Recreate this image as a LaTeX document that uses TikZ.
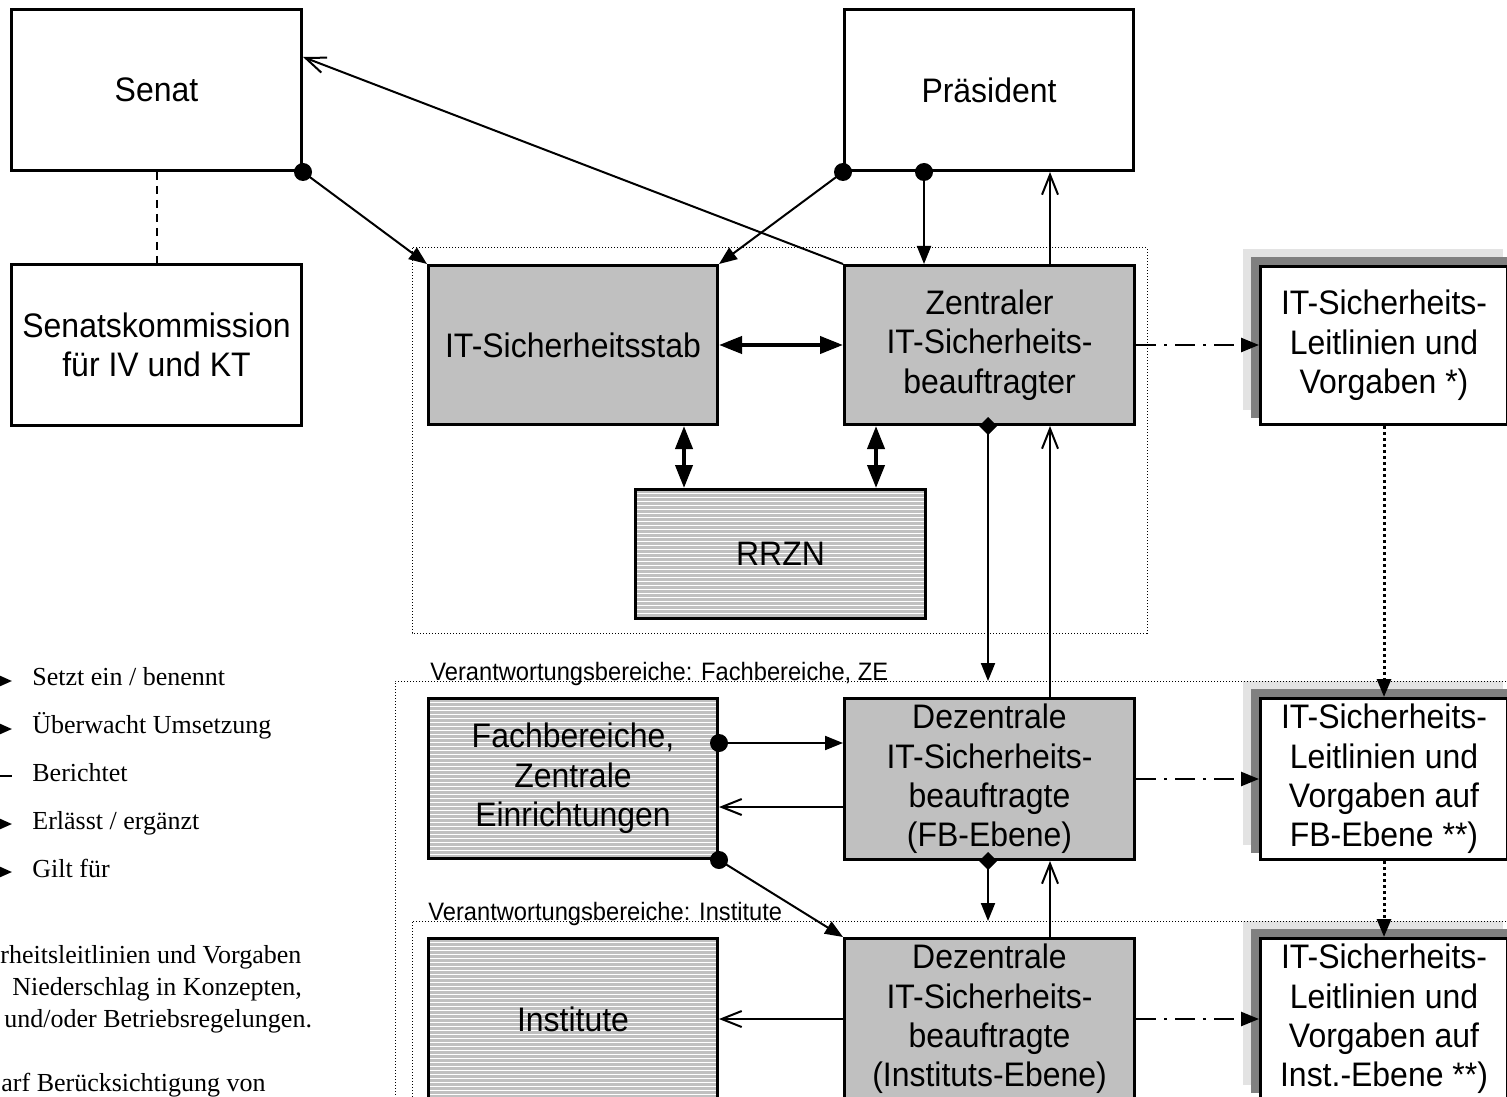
\documentclass[tikz,border=0pt]{standalone}
\usepackage{fontspec}
\setmainfont{Liberation Serif}
\newfontfamily\boxfont[FakeStretch=0.94]{Liberation Sans}
\usetikzlibrary{arrows.meta,calc,backgrounds}

\definecolor{boxgray}{HTML}{C0C0C0}
\definecolor{shadowdark}{HTML}{808080}
\definecolor{shadowlight}{HTML}{E3E3E3}

\begin{document}
\begin{tikzpicture}[x=0.5pt,y=-0.5pt,
  box/.style={draw, line width=1.5pt, inner sep=0pt, align=center, anchor=north west,
    font=\boxfont\fontsize{17}{19.7}\selectfont},
  wide/.style={minimum width=145pt, minimum height=80.5pt},
  grayfill/.style={fill=boxgray},
  hatched/.style={fill=boxgray, path picture={
      \foreach \k in {1,...,45}{
        \draw[white, line width=0.5pt]
          ([yshift={-\k*2pt}]path picture bounding box.north west) --
          ([yshift={-\k*2pt}]path picture bounding box.north east);
      }}},
  region/.style={line width=0.5pt, dash pattern=on 0.5pt off 1pt},
  regionlabel/.style={anchor=base west, inner sep=0pt,
    font=\boxfont\fontsize{12.6}{14}\selectfont},
  conn/.style={line width=1pt},
  fillarrow/.style={conn, -{Triangle[length=9pt,width=7pt]}},
  openarrow/.style={conn, -{Straight Barb[length=10pt,width=8pt]}},
  bothway/.style={line width=2pt,
    {Triangle[length=11.5pt,width=8.5pt]}-{Triangle[length=11.5pt,width=8.5pt]}},
  issues/.style={line width=1.25pt, dash pattern=on 10pt off 4pt on 1.5pt off 4pt,
    -{Triangle[length=9pt,width=7pt]}},
  applies/.style={line width=1.5pt, dash pattern=on 1.5pt off 1.5pt,
    -{Triangle[length=9pt,width=7pt]}},
  reports/.style={line width=1pt, dash pattern=on 4pt off 3pt},
  legendtext/.style={anchor=base west, inner sep=0pt, font=\fontsize{13}{16}\selectfont},
  note/.style={anchor=base west, inner sep=0pt, font=\fontsize{13}{16}\selectfont},
  dot/.style={fill=black},
]
\useasboundingbox (0,0) rectangle (1507,1096);
\clip (0,0) rectangle (1507,1096);

% responsibility areas
\draw[region] (412,248) rectangle (1147,633);
\draw[region] (1530,681) -- (395,681) -- (395,1120);
\draw[region] (1530,921) -- (412,921) -- (412,1120);
\coordinate (reg2top) at (0,681);
\coordinate (reg3top) at (0,921);
\node[regionlabel] (lblfb) at (430,680) {Verantwortungsbereiche: Fachbereiche, ZE};
\node[regionlabel] (lblinst) at (428,920) {Verantwortungsbereiche: Institute};

% boxes
\node[box, wide, fill=white] (senat) at (10,8) {Senat};
\node[box, wide, fill=white, minimum width=144.5pt] (praes) at (843,8) {Präsident};
\node[box, wide, fill=white] (komm) at (10,263) {Senatskommission\\für IV und KT};
\node[box, grayfill, minimum width=144.5pt, minimum height=79.5pt] (stab) at (427,264) {IT-Sicherheitsstab};
\node[box, grayfill, minimum width=145pt, minimum height=79.5pt] (zen) at (843,264) {Zentraler\\IT-Sicherheits-\\beauftragter};
\node[box, hatched, minimum width=145pt, minimum height=64.5pt] (rrzn) at (634,488) {RRZN};

\node[box, fill=white, minimum width=123.5pt, minimum height=79pt] (r1) at (1259,265) {IT-Sicherheits-\\Leitlinien und\\Vorgaben *)};
\node[box, fill=white, minimum width=123.5pt, minimum height=80.5pt] (r2) at (1259,697) {IT-Sicherheits-\\Leitlinien und\\Vorgaben auf\\FB-Ebene **)};
\node[box, fill=white, minimum width=123.5pt, minimum height=80.5pt] (r3) at (1259,937) {IT-Sicherheits-\\Leitlinien und\\Vorgaben auf\\Inst.-Ebene **)};

\node[box, hatched, minimum width=144.5pt, minimum height=80pt] (fb) at (427,697) {Fachbereiche,\\Zentrale\\Einrichtungen};
\node[box, grayfill, minimum width=145pt, minimum height=80.5pt] (dfb) at (843,697) {Dezentrale\\IT-Sicherheits-\\beauftragte\\(FB-Ebene)};
\node[box, hatched, minimum width=144.5pt, minimum height=80.5pt] (inst) at (427,937) {Institute};
\node[box, grayfill, minimum width=145pt, minimum height=80.5pt] (dinst) at (843,937) {Dezentrale\\IT-Sicherheits-\\beauftragte\\(Instituts-Ebene)};

% stacked shadows behind the guideline boxes
\begin{pgfonlayer}{background}
  \foreach \b in {r1,r2,r3}{
    \fill[shadowlight] ($(\b.north west)+(-16,-16)$) rectangle ($(\b.south east)+(-6,-16)$);
    \fill[shadowdark] ($(\b.north west)+(-8,-8)$) rectangle ($(\b.south east)+(0,-8)$);
  }
\end{pgfonlayer}

% attachment points
\coordinate (senatIn) at ($(senat.north east)+(0,49)$);
\coordinate (praesDot) at ($(praes.south west)+(81,0)$);
\coordinate (zenIn) at ($(zen.north west)+(81,0)$);
\coordinate (zenUp) at ($(zen.north west)+(207,0)$);
\coordinate (praesIn) at (zenUp |- praes.south);
\coordinate (stabDown) at ($(stab.south west)+(257,0)$);
\coordinate (rrznL) at (stabDown |- rrzn.north);
\coordinate (zenDown) at ($(zen.south west)+(33,0)$);
\coordinate (rrznR) at (zenDown |- rrzn.north);
\coordinate (zdia) at ($(zen.south west)+(145,0)$);
\coordinate (zup) at ($(zen.south west)+(207,0)$);
\coordinate (dfbTop) at (zup |- dfb.north);
\coordinate (fbDot) at ($(fb.north east)+(0,46)$);
\coordinate (dfbIn) at (fbDot -| dfb.west);
\coordinate (dfbOut) at ($(dfb.north west)+(0,110)$);
\coordinate (fbIn) at (dfbOut -| fb.east);
\coordinate (ddia) at ($(dfb.south west)+(145,0)$);
\coordinate (dup) at ($(dfb.south west)+(207,0)$);
\coordinate (dinstTop) at (dup |- dinst.north);

% connectors
\draw[reports] (senat.south) -- (komm.north);
\draw[fillarrow] (senat.south east) -- (stab.north west);
\draw[openarrow] (zen.north west) -- (senatIn);
\draw[fillarrow] (praes.south west) -- (stab.north east);
\draw[fillarrow] (praesDot) -- (zenIn);
\draw[openarrow] (zenUp) -- (praesIn);
\draw[bothway] (stab.east) -- (zen.west);
\draw[bothway] (stabDown) -- (rrznL);
\draw[bothway] (zenDown) -- (rrznR);
\draw[issues] (zen.east) -- (zen.east -| r1.west);
\draw[fillarrow] (zdia) -- (zdia |- reg2top);
\draw[openarrow] (dfbTop) -- (zup);
\draw[fillarrow] (fbDot) -- (dfbIn);
\draw[openarrow] (dfbOut) -- (fbIn);
\draw[fillarrow] (fb.south east) -- (dinst.north west);
\draw[fillarrow] (ddia) -- (ddia |- reg3top);
\draw[openarrow] (dinstTop) -- (dup);
\draw[issues] (dfb.east) -- (dfb.east -| r2.west);
\draw[issues] (dinst.east) -- (dinst.east -| r3.west);
\draw[openarrow] (dinst.west) -- (inst.east);
\draw[applies] (r1.south) -- (r2.north);
\draw[applies] (r2.south) -- (r3.north);

% connector end marks
\foreach \p in {senat.south east, praes.south west, praesDot, fbDot, fb.south east}
  \fill[dot] (\p) circle (4.5pt);
\foreach \p in {zdia, ddia}
  \fill (\p) ++(0,-9) -- ++(9,9) -- ++(-9,9) -- ++(-9,-9) -- cycle;

% legend
\coordinate (lg1) at (12,681);
\coordinate (lg2) at (12,729);
\coordinate (lg3) at (12,776);
\coordinate (lg4) at (12,824);
\coordinate (lg5) at (12,872);
\draw[conn, -{Triangle[length=6pt,width=5pt]}] ($(lg1)+(-60,0)$) -- (lg1);
\draw[conn, -{Triangle[length=6pt,width=5pt]}] ($(lg2)+(-60,0)$) -- (lg2);
\draw[conn] ($(lg3)+(-60,0)$) -- (lg3);
\draw[conn, -{Triangle[length=6pt,width=5pt]}] ($(lg4)+(-60,0)$) -- (lg4);
\draw[conn, -{Triangle[length=6pt,width=5pt]}] ($(lg5)+(-60,0)$) -- (lg5);
\node[legendtext] (lt1) at (32,685) {Setzt ein / benennt};
\node[legendtext] (lt2) at (32,733) {Überwacht Umsetzung};
\node[legendtext] (lt3) at (32,781) {Berichtet};
\node[legendtext] (lt4) at (32,829) {Erlässt / ergänzt};
\node[legendtext] (lt5) at (32,877) {Gilt für};

% footnotes
\node[note] (n1) at (0,963) {rheitsleitlinien und Vorgaben};
\node[note] (n2) at (12,995) {Niederschlag in Konzepten,};
\node[note] (n3) at (4,1027) {und/oder Betriebsregelungen.};
\node[note] (n4) at (1,1091) {arf Berücksichtigung von};
\end{tikzpicture}
\end{document}
